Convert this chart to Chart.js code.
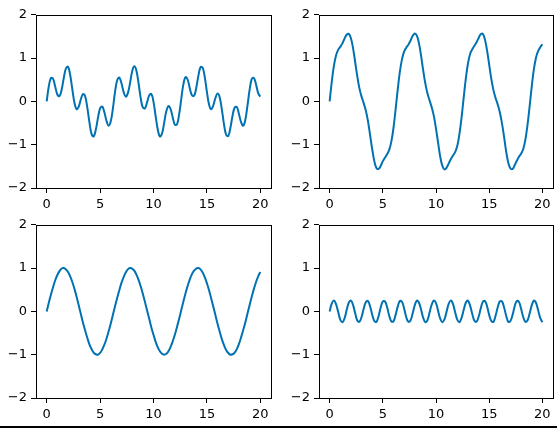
<!DOCTYPE html>
<html>
<head>
<meta charset="utf-8">
<script src="https://cdn.jsdelivr.net/npm/chart.js@4.4.1/dist/chart.umd.min.js"></script>
<style>
  html, body { margin: 0; padding: 0; background: #fff; }
  #fig { position: relative; width: 557px; height: 428px; overflow: hidden; }
  #fig canvas { position: absolute; }
  #edge { position: absolute; left: 0; top: 426px; width: 557px; height: 2px; background: #000; }
</style>
</head>
<body>
<div id="fig">
  <canvas id="tl"></canvas>
  <canvas id="tr"></canvas>
  <canvas id="bl"></canvas>
  <canvas id="br"></canvas>
  <div id="edge"></div>
</div>
<script>
// sample positions along x
const xs = [
  0, 0.2, 0.4, 0.6, 0.8, 1, 1.2, 1.4, 1.6, 1.8,
  2, 2.2, 2.4, 2.6, 2.8, 3, 3.2, 3.4, 3.6, 3.8,
  4, 4.2, 4.4, 4.6, 4.8, 5, 5.2, 5.4, 5.6, 5.8,
  6, 6.2, 6.4, 6.6, 6.8, 7, 7.2, 7.4, 7.6, 7.8,
  8, 8.2, 8.4, 8.6, 8.8, 9, 9.2, 9.4, 9.6, 9.8,
  10, 10.2, 10.4, 10.6, 10.8, 11, 11.2, 11.4, 11.6, 11.8,
  12, 12.2, 12.4, 12.6, 12.8, 13, 13.2, 13.4, 13.6, 13.8,
  14, 14.2, 14.4, 14.6, 14.8, 15, 15.2, 15.4, 15.6, 15.8,
  16, 16.2, 16.4, 16.6, 16.8, 17, 17.2, 17.4, 17.6, 17.8,
  18, 18.2, 18.4, 18.6, 18.8, 19, 19.2, 19.4, 19.6, 19.8,
  20
];

const topLeft = [
  0, 0.35, 0.54, 0.52, 0.34, 0.16, 0.12, 0.27, 0.54, 0.76,
  0.8, 0.61, 0.28, -0.03, -0.18, -0.12, 0.05, 0.17, 0.12, -0.14,
  -0.48, -0.75, -0.81, -0.65, -0.38, -0.16, -0.12, -0.25, -0.45, -0.56,
  -0.46, -0.16, 0.22, 0.49, 0.55, 0.42, 0.22, 0.11, 0.19, 0.42,
  0.69, 0.81, 0.71, 0.42, 0.08, -0.14, -0.16, -0.02, 0.14, 0.17,
  -0.01, -0.34, -0.65, -0.81, -0.74, -0.49, -0.23, -0.11, -0.18, -0.37,
  -0.54, -0.53, -0.3, 0.06, 0.4, 0.56, 0.5, 0.3, 0.14, 0.13,
  0.31, 0.59, 0.79, 0.78, 0.56, 0.22, -0.07, -0.18, -0.09, 0.08,
  0.18, 0.09, -0.19, -0.53, -0.77, -0.8, -0.61, -0.33, -0.14, -0.13,
  -0.29, -0.48, -0.56, -0.42, -0.09, 0.27, 0.52, 0.54, 0.39, 0.19,
  0.11
];

const topRight = [
  0, 0.45, 0.82, 1.06, 1.19, 1.26, 1.34, 1.45, 1.54, 1.56,
  1.46, 1.23, 0.91, 0.58, 0.3, 0.11, -0.04, -0.21, -0.45, -0.77,
  -1.1, -1.38, -1.54, -1.56, -1.49, -1.38, -1.3, -1.22, -1.12, -0.93,
  -0.62, -0.19, 0.27, 0.68, 0.97, 1.15, 1.24, 1.31, 1.4, 1.51,
  1.57, 1.52, 1.34, 1.05, 0.71, 0.41, 0.18, 0.02, -0.14, -0.34,
  -0.63, -0.96, -1.28, -1.49, -1.57, -1.53, -1.43, -1.33, -1.25, -1.17,
  -1.03, -0.76, -0.38, 0.08, 0.52, 0.87, 1.09, 1.2, 1.28, 1.36,
  1.46, 1.55, 1.56, 1.43, 1.18, 0.85, 0.52, 0.26, 0.08, -0.07,
  -0.25, -0.5, -0.82, -1.16, -1.42, -1.55, -1.56, -1.47, -1.37, -1.28,
  -1.21, -1.1, -0.89, -0.55, -0.12, 0.34, 0.74, 1.01, 1.16, 1.25,
  1.32
];

const bottomLeft = [
  0, 0.2, 0.39, 0.56, 0.72, 0.84, 0.93, 0.99, 1, 0.97,
  0.91, 0.81, 0.68, 0.52, 0.34, 0.14, -0.06, -0.26, -0.44, -0.61,
  -0.76, -0.87, -0.95, -0.99, -1, -0.96, -0.88, -0.77, -0.63, -0.46,
  -0.28, -0.08, 0.12, 0.31, 0.49, 0.66, 0.79, 0.9, 0.97, 1,
  0.99, 0.94, 0.85, 0.73, 0.58, 0.41, 0.22, 0.02, -0.17, -0.37,
  -0.54, -0.7, -0.83, -0.92, -0.98, -1, -0.98, -0.92, -0.82, -0.69,
  -0.54, -0.36, -0.17, 0.03, 0.23, 0.42, 0.59, 0.74, 0.86, 0.94,
  0.99, 1, 0.97, 0.9, 0.79, 0.65, 0.49, 0.3, 0.11, -0.09,
  -0.29, -0.47, -0.64, -0.78, -0.89, -0.96, -1, -0.99, -0.95, -0.87,
  -0.75, -0.6, -0.43, -0.25, -0.05, 0.15, 0.34, 0.52, 0.68, 0.81,
  0.91
];

const bottomRight = [
  0, 0.18, 0.25, 0.17, -0.01, -0.19, -0.25, -0.16, 0.03, 0.2,
  0.25, 0.15, -0.04, -0.21, -0.24, -0.13, 0.06, 0.21, 0.24, 0.12,
  -0.07, -0.22, -0.24, -0.11, 0.09, 0.23, 0.23, 0.1, -0.1, -0.23,
  -0.23, -0.08, 0.11, 0.24, 0.22, 0.07, -0.13, -0.24, -0.21, -0.05,
  0.14, 0.25, 0.2, 0.04, -0.15, -0.25, -0.2, -0.02, 0.16, 0.25,
  0.19, 0.01, -0.17, -0.25, -0.18, 0, 0.18, 0.25, 0.17, -0.02,
  -0.19, -0.25, -0.15, 0.03, 0.2, 0.25, 0.14, -0.05, -0.21, -0.24,
  -0.13, 0.06, 0.22, 0.24, 0.12, -0.08, -0.22, -0.24, -0.1, 0.09,
  0.23, 0.23, 0.09, -0.1, -0.24, -0.22, -0.08, 0.12, 0.24, 0.22,
  0.06, -0.13, -0.24, -0.21, -0.05, 0.14, 0.25, 0.2, 0.03, -0.15,
  -0.25
];

const xTicks = [0, 5, 10, 15, 20];
const yTicks = [-2, -1, 0, 1, 2];

const lineColor = '#0072b2';
const tickFont = { family: 'DejaVu Sans', size: 13 };

// box around the plot area, like the matplotlib spines
const frame = {
  id: 'frame',
  afterDraw(chart) {
    const { ctx, chartArea: a } = chart;
    ctx.save();
    ctx.strokeStyle = '#000';
    ctx.lineWidth = 1;
    ctx.strokeRect(Math.round(a.left) + 0.5, Math.round(a.top) + 0.5,
      Math.round(a.right - a.left), Math.round(a.bottom - a.top));
    ctx.restore();
  }
};

function subplot(id, ys, left, top, w, h) {
  const canvas = document.getElementById(id);
  canvas.width = w + 40;
  canvas.height = h + 38;
  canvas.style.left = (left - 36) + 'px';
  canvas.style.top = (top - 10) + 'px';

  new Chart(canvas, {
    type: 'line',
    data: {
      datasets: [{
        data: ys.map((y, i) => ({ x: xs[i], y: y })),
        borderColor: lineColor,
        borderWidth: 2,
        pointRadius: 0,
        tension: 0.4,
        fill: false
      }]
    },
    options: {
      responsive: false,
      animation: false,
      devicePixelRatio: 1,
      layout: { padding: { top: 10, right: 4, left: 0, bottom: 0 } },
      plugins: { legend: { display: false }, tooltip: { enabled: false } },
      scales: {
        x: {
          type: 'linear',
          min: -1,
          max: 21,
          afterBuildTicks: s => { s.ticks = xTicks.map(v => ({ value: v })); },
          afterFit: s => { s.height = 28; },
          border: { display: false },
          grid: { drawOnChartArea: false, tickLength: 5, color: '#000' },
          ticks: { font: tickFont, color: '#000', padding: 4, maxRotation: 0, autoSkip: false }
        },
        y: {
          min: -2,
          max: 2,
          afterBuildTicks: s => { s.ticks = yTicks.map(v => ({ value: v })); },
          afterFit: s => { s.width = 36; },
          border: { display: false },
          grid: { drawOnChartArea: false, tickLength: 5, color: '#000' },
          ticks: {
            font: tickFont, color: '#000', padding: 4, autoSkip: false,
            callback: v => String(v).replace('-', '\u2212')
          }
        }
      }
    },
    plugins: [frame]
  });
}

subplot('tl', topLeft, 36, 13, 235, 175);
subplot('tr', topRight, 319, 13, 234, 175);
subplot('bl', bottomLeft, 36, 223, 235, 175);
subplot('br', bottomRight, 319, 223, 234, 175);
</script>
</body>
</html>
